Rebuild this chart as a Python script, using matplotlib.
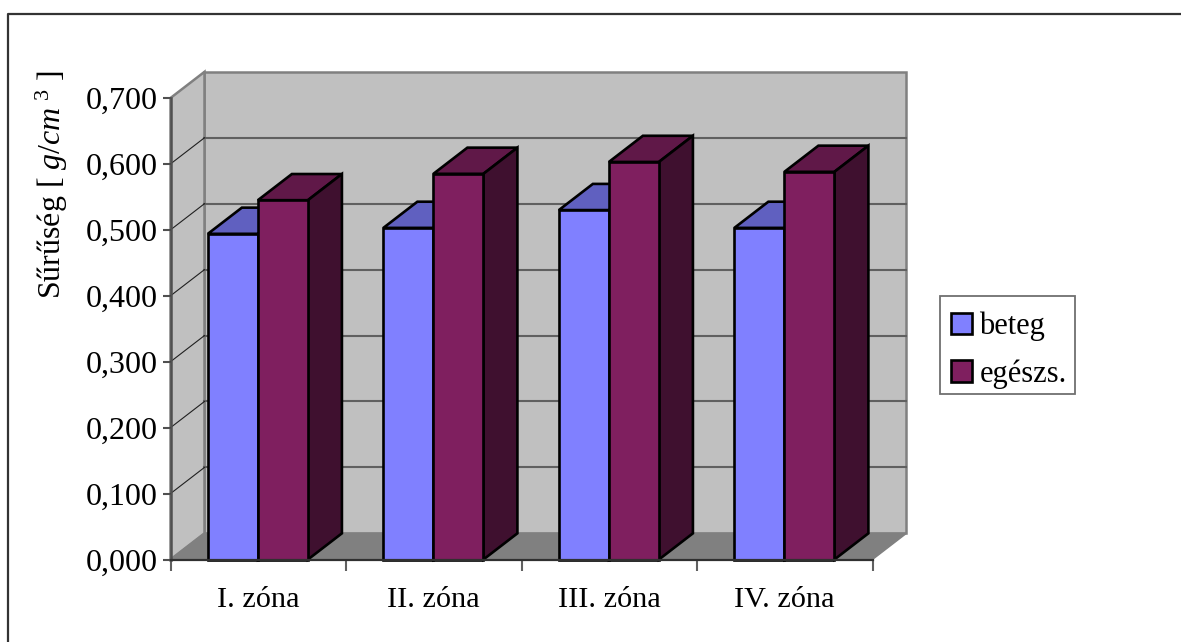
"""3D-style clustered bars: density per zone, patient vs healthy."""

import matplotlib

matplotlib.use("Agg")
import matplotlib.pyplot as plt
from matplotlib.patches import Polygon, Rectangle

plt.rcParams["font.family"] = ["Liberation Serif", "DejaVu Serif"]
plt.rcParams["mathtext.fontset"] = "custom"
plt.rcParams["mathtext.rm"] = "Liberation Serif"
plt.rcParams["mathtext.it"] = "Liberation Serif:italic"

zones = ["I. zóna", "II. zóna", "III. zóna", "IV. zóna"]
beteg = [0.494, 0.503, 0.530, 0.503]
egeszs = [0.545, 0.585, 0.603, 0.588]
series_names = ["beteg", "egészs."]
yticks = [0.0, 0.1, 0.2, 0.3, 0.4, 0.5, 0.6, 0.7]

W, H = 1181, 642
LEFT, RIGHT, BOTTOM, TOP = 170.5, 872.5, 559.5, 98.0
GAP = 0.213
BAR_W = 0.285
DX = 0.1937  # depth offset, x data units
DY = 0.0397  # depth offset, y data units
EDGE_LW = 1.9

WALL = "#C0C0C0"
FLOOR = "#808080"
FACES = {
    "beteg": ("#8080FF", "#6060C0", "#404080"),
    "egészs.": ("#7F1F5F", "#601848", "#3F102F"),
}


def box3d(ax, x0, height, faces):
    front, top, side = faces
    x1 = x0 + BAR_W
    ax.add_patch(Polygon(
        [(x0, height), (x0 + DX, height + DY), (x1 + DX, height + DY), (x1, height)],
        fc=top, ec="black", lw=EDGE_LW, clip_on=False, zorder=5,
    ))
    ax.add_patch(Polygon(
        [(x1, 0), (x1 + DX, DY), (x1 + DX, height + DY), (x1, height)],
        fc=side, ec="black", lw=EDGE_LW, clip_on=False, zorder=5,
    ))
    ax.bar(x0, height, BAR_W, align="edge", color=front, edgecolor="black",
           linewidth=EDGE_LW, zorder=5, clip_on=False)


fig = plt.figure(figsize=(W / 100, H / 100), dpi=100)
fig.patch.set_facecolor("white")

# outer chart frame, open at the right and the bottom of the canvas
fig.add_artist(plt.Line2D([8 / W, 8 / W, 1], [0, 1 - 14 / H, 1 - 14 / H],
                          color="#333333", lw=1.6, transform=fig.transFigure))

ax = fig.add_axes([LEFT / W, 1 - BOTTOM / H, (RIGHT - LEFT) / W, (BOTTOM - TOP) / H])
ax.set_xlim(0, 4)
ax.set_ylim(0, 0.7)
ax.patch.set_visible(False)
for spine in ax.spines.values():
    spine.set_visible(False)

# walls and floor
ax.add_patch(Rectangle((DX, DY), 4, 0.7, fc=WALL, ec=FLOOR, lw=1.8, clip_on=False, zorder=1))
ax.add_patch(Polygon([(0, 0), (DX, DY), (DX, 0.7 + DY), (0, 0.7)],
                     fc=WALL, ec=FLOOR, lw=1.8, clip_on=False, zorder=1))
ax.add_patch(Polygon([(0, 0), (DX, DY), (4 + DX, DY), (4, 0)],
                     fc=FLOOR, ec=FLOOR, lw=1, clip_on=False, zorder=2))

# gridlines on the back wall, running round onto the side wall
for v in yticks[1:-1]:
    ax.plot([DX, 4 + DX], [v + DY, v + DY], color="#606060", lw=1.5, zorder=3, clip_on=False)
    ax.plot([0, DX], [v, v + DY], color="#202020", lw=0.8, zorder=3, clip_on=False)

for i, zone in enumerate(zones):
    box3d(ax, i + GAP, beteg[i], FACES["beteg"])
    box3d(ax, i + GAP + BAR_W, egeszs[i], FACES["egészs."])

# front axes
ax.plot([0, 0], [0, 0.7], color="#505050", lw=1.8, zorder=4, clip_on=False)
ax.plot([0, 4], [0, 0], color="#303030", lw=1.6, zorder=6, clip_on=False)

ax.set_yticks(yticks)
ax.set_yticklabels([f"{v:.3f}".replace(".", ",") for v in yticks])
ax.set_xticks(range(5))
ax.set_xticklabels([])
ax.set_xticks([i + 0.5 for i in range(4)], minor=True)
ax.set_xticklabels(zones, minor=True)
ax.tick_params(axis="y", length=6, width=1.5, color="#505050", labelsize=23, pad=3)
ax.tick_params(axis="x", which="major", length=8, width=1.5, color="#606060")
ax.tick_params(axis="x", which="minor", length=0, labelsize=21.8, pad=20)

fig.text(52 / W, 1 - 185 / H, r"Sűrűség [ $g/cm^{\ \mathit{3}}$ ]", rotation=90,
         ha="center", va="center", fontsize=23)

# legend box is drawn separately so the rows can sit low inside it
fig.add_artist(Rectangle((939.5 / W, 1 - 394 / H), 135.5 / W, 98 / H, fc="white", ec="#707070",
                         lw=1.3, transform=fig.transFigure))
handles = [
    Rectangle((0, 0), 1, 1, fc=FACES[name][0], ec="black", lw=EDGE_LW) for name in series_names
]
fig.legend(
    handles, series_names, loc="center left", bbox_to_anchor=(939.5 / W, 1 - 350 / H),
    fontsize=22, frameon=False,
    handlelength=0.69, handleheight=0.69, handletextpad=0.26, labelspacing=0.6,
    borderpad=0.36, borderaxespad=0,
)

fig.savefig("out.png", dpi=100)
plt.close(fig)
